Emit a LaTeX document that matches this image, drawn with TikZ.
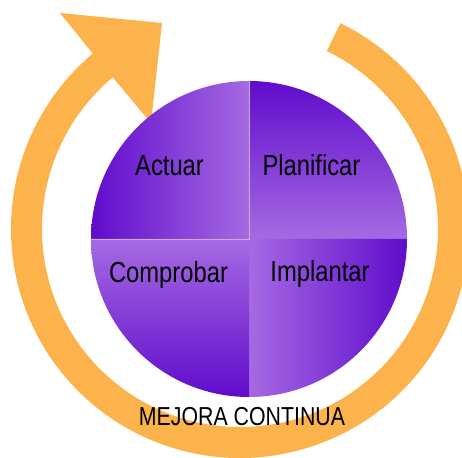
\documentclass[tikz,border=0pt]{standalone}
\usepackage{fontspec}
\setmainfont{Liberation Sans}
\newfontfamily\narrowsans{Liberation Sans}[FakeStretch=0.82]
\usetikzlibrary{calc}
\definecolor{ringorange}{RGB}{253,179,75}
\definecolor{purpledark}{RGB}{96,12,204}
\definecolor{purplelight}{RGB}{165,106,226}
\begin{document}
\begin{tikzpicture}[x=1pt,y=1pt,
  lbl/.style={font=\narrowsans\fontsize{29}{32}\selectfont, anchor=base, inner sep=0pt}]
\useasboundingbox (0,0) rectangle (462,457);
\coordinate (o) at (240,228);
\coordinate (c) at (249,218);
% orange ring with arrow head
\fill[ringorange] ($(o)+(64:229)$) arc[start angle=64, end angle=-230, radius=229]
  -- (60,444) -- (162,434) -- (151,334) -- ($(o)+(130:198)$)
  arc[start angle=130, end angle=424, radius=198] -- cycle;
% four quarters
\shade[left color=purpledark, right color=purplelight] (c) -- ++(-158,0) arc[start angle=180, end angle=90, radius=158] -- cycle;
\shade[top color=purpledark, bottom color=purplelight] (c) -- ++(0,158) arc[start angle=90, end angle=0, radius=158] -- cycle;
\shade[left color=purplelight, right color=purpledark] (c) -- ++(158,0) arc[start angle=0, end angle=-90, radius=158] -- cycle;
\shade[top color=purplelight, bottom color=purpledark] (c) -- ++(0,-158) arc[start angle=-90, end angle=-180, radius=158] -- cycle;
\draw[purplelight!55!white, line width=0.6pt] ($(c)+(0,158)$) -- (c) -- ($(c)+(-158,0)$);
% labels
\node[lbl] (actuar) at (169.5,281) {Actuar};
\node[lbl] (planificar) at (311.5,281) {Planificar};
\node[lbl] (comprobar) at (168.5,174) {Comprobar};
\node[lbl] (implantar) at (320,175) {Implantar};
\node[lbl, font=\narrowsans\fontsize{26}{30}\selectfont] (mejora) at (242,32) {MEJORA CONTINUA};
\end{tikzpicture}
\end{document}
